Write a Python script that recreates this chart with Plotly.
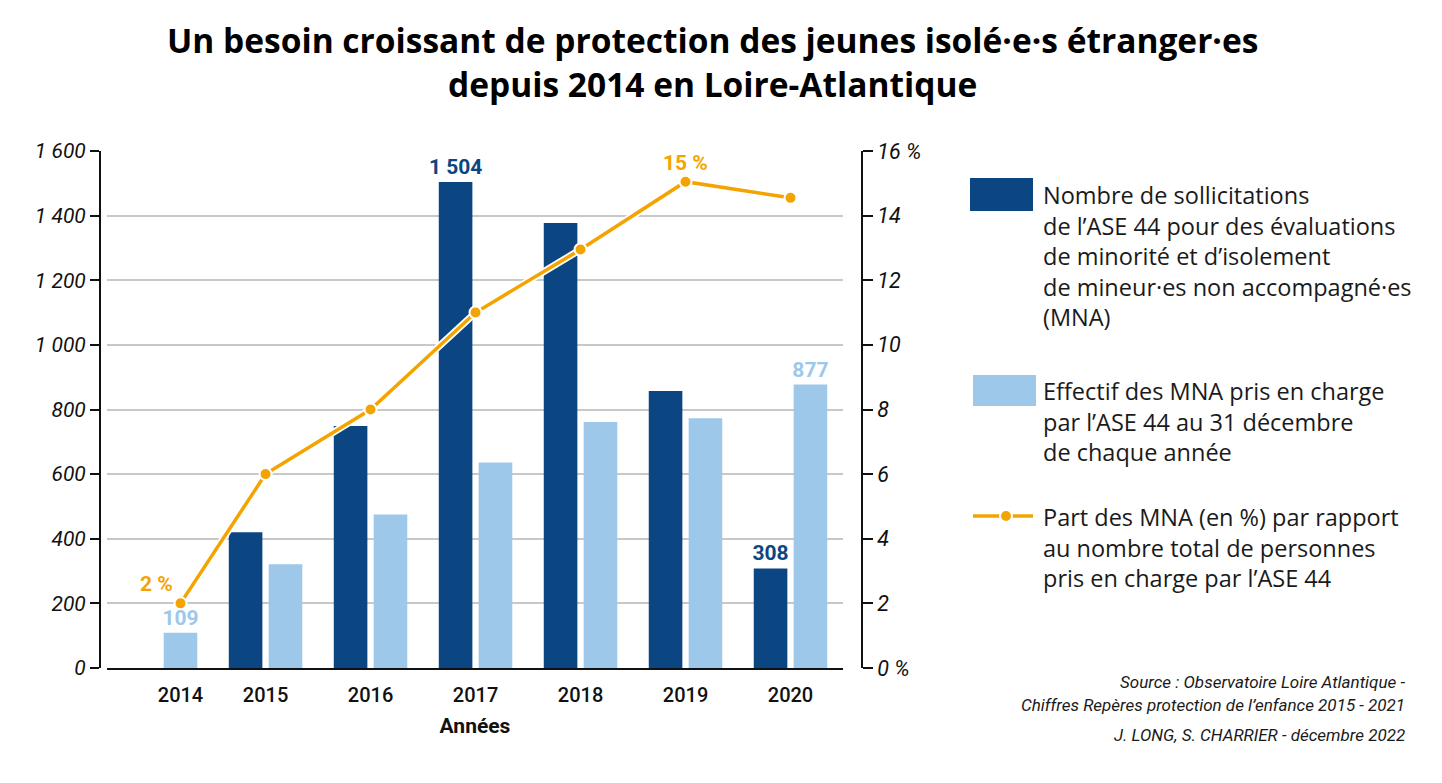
import plotly.graph_objects as go

# ---------------- data ----------------
YEARS = [2014, 2015, 2016, 2017, 2018, 2019, 2020]
SOLLICITATIONS = [None, 420, 749, 1504, 1377, 857, 308]
EFFECTIF = [109, 321, 475, 636, 761, 773, 877]
PART_PCT = [2, 6, 8, 11, 12.95, 15.05, 14.55]

DARK_LABELS = ["", "", "", "1 504", "", "", "308"]
LIGHT_LABELS = ["109", "", "", "", "", "", "877"]
PCT_LABELS = ["2 %", "", "", "", "", "15 %", ""]

LEFT_TICKS = [0, 200, 400, 600, 800, 1000, 1200, 1400, 1600]
RIGHT_TICKS = [0, 2, 4, 6, 8, 10, 12, 14, 16]
RIGHT_TICKTEXT = ["0 %", "2", "4", "6", "8", "10", "12", "14", "16 %"]

TITLE_LINES = ["Un besoin croissant de protection des jeunes isolé·e·s étranger·es",
               "depuis 2014 en Loire-Atlantique"]
X_TITLE = "Années"
LEG1 = ["Nombre de sollicitations", "de l’ASE 44 pour des évaluations",
        "de minorité et d’isolement", "de mineur·es non accompagné·es", "(MNA)"]
LEG2 = ["Effectif des MNA pris en charge", "par l’ASE 44 au 31 décembre",
        "de chaque année"]
LEG3 = ["Part des MNA (en %) par rapport", "au nombre total de personnes",
        "pris en charge par l’ASE 44"]
SOURCE = ["Source : Observatoire Loire Atlantique -",
          "Chiffres Repères protection de l’enfance 2015 - 2021",
          "J. LONG, S. CHARRIER - décembre 2022"]

# ---------------- style ----------------
W, H = 1442, 783
PAGE_OFF = 8          # default body margin of the page
FW, FH = W - PAGE_OFF, H - PAGE_OFF
DARK = "#0C4682"
LIGHT = "#9DC8EA"
ORANGE = "#F4A400"
FONT = "Roboto"
WIDE = "Open Sans"
BAR_W = 0.32
DARK_OFF = -0.35
LIGHT_OFF = 0.03


def px(x):
    return (x - PAGE_OFF) / FW


def py(y):
    return 1 - (y - PAGE_OFF) / FH


# position of the line point / tick: centre of the group, or centre of the
# single remaining bar when the dark one is missing
pos = [y if d is not None else y + LIGHT_OFF + BAR_W / 2
       for y, d in zip(YEARS, SOLLICITATIONS)]

fig = go.Figure()

fig.add_trace(go.Bar(
    x=YEARS, y=SOLLICITATIONS, width=BAR_W, offset=DARK_OFF,
    marker=dict(color=DARK, line=dict(width=0)),
    text=DARK_LABELS, textposition="outside", constraintext="none",
    outsidetextfont=dict(family=FONT, size=21, color=DARK, weight="bold"),
    cliponaxis=False, showlegend=False, xaxis="x", yaxis="y"))

fig.add_trace(go.Bar(
    x=YEARS, y=EFFECTIF, width=BAR_W, offset=LIGHT_OFF,
    marker=dict(color=LIGHT, line=dict(width=0)),
    text=LIGHT_LABELS, textposition="outside", constraintext="none",
    outsidetextfont=dict(family=FONT, size=21, color=LIGHT, weight="bold"),
    cliponaxis=False, showlegend=False, xaxis="x", yaxis="y"))

# white halo under the line
fig.add_trace(go.Scatter(
    x=pos, y=PART_PCT, mode="lines", line=dict(color="white", width=7),
    hoverinfo="skip", showlegend=False, xaxis="x", yaxis="y2"))
fig.add_trace(go.Scatter(
    x=pos, y=PART_PCT, mode="lines+markers",
    line=dict(color=ORANGE, width=3.5),
    marker=dict(color=ORANGE, size=12, line=dict(color="white", width=2)),
    showlegend=False, xaxis="x", yaxis="y2", cliponaxis=False))

annotations = []
for xv, yv, lab in zip(pos, PART_PCT, PCT_LABELS):
    if lab:
        annotations.append(dict(
            x=xv, y=yv, xref="x", yref="y2", text=lab, showarrow=False,
            xshift=-24 if lab.startswith("2 ") else 0, yshift=19,
            font=dict(family=FONT, size=21, color=ORANGE, weight="bold")))

# title (one two-line block)
annotations.append(dict(
    x=px(712), y=py(62), xref="paper", yref="paper",
    xanchor="center", yanchor="middle", text="<br>".join(TITLE_LINES),
    showarrow=False, align="center",
    font=dict(family=WIDE, size=33.5, color="#000000", weight="bold")))

# legend (drawn manually)
LEG_X = 1041
LINE_H = 30.5
for lines, y0 in ((LEG1, 195), (LEG2, 391), (LEG3, 517)):
    for i, t in enumerate(lines):
        annotations.append(dict(
            x=px(LEG_X), y=py(y0 + i * LINE_H), xref="paper", yref="paper",
            xanchor="left", yanchor="middle", text=t, showarrow=False,
            font=dict(family=WIDE, size=23.5, color="#1a1a1a")))

for t, yy in zip(SOURCE, (682, 705, 735)):
    annotations.append(dict(
        x=px(1407), y=py(yy), xref="paper", yref="paper",
        xanchor="right", yanchor="middle", text=t, showarrow=False,
        font=dict(family=FONT, size=17, color="#1a1a1a", style="italic")))

shapes = [
    dict(type="rect", xref="paper", yref="paper",
         x0=px(970), x1=px(1033), y0=py(211), y1=py(178),
         fillcolor=DARK, line=dict(width=0)),
    dict(type="rect", xref="paper", yref="paper",
         x0=px(973), x1=px(1036), y0=py(406), y1=py(375),
         fillcolor=LIGHT, line=dict(width=0)),
    dict(type="line", xref="paper", yref="paper",
         x0=px(973), x1=px(1033), y0=py(516), y1=py(516),
         line=dict(color=ORANGE, width=3.5)),
    dict(type="circle", xref="paper", yref="paper",
         x0=px(1000), x1=px(1012), y0=py(522), y1=py(510),
         fillcolor=ORANGE, line=dict(color="white", width=2)),
]

X0, X1 = 107, 843
YB, YT = 668, 151
x_range = [2013.49, 2020.5]

fig.update_layout(
    width=FW, height=FH,
    margin=dict(l=0, r=0, t=0, b=0, autoexpand=False),
    paper_bgcolor="white", plot_bgcolor="white",
    separators=", ",
    barmode="overlay",
    font=dict(family=FONT, color="#111111"),
    xaxis=dict(domain=[px(X0), px(X1)], range=x_range,
               tickvals=pos, ticktext=[str(y) for y in YEARS],
               showgrid=False, zeroline=False,
               showline=True, linecolor="#111111", linewidth=2,
               ticks="outside", ticklen=8, tickcolor="rgba(0,0,0,0)",
               tickfont=dict(family=FONT, size=20, color="#111111", weight=500),
               title=dict(text=X_TITLE, standoff=12,
                          font=dict(family=FONT, size=21, color="#111111", weight="bold")),
               anchor="y", fixedrange=True, automargin=False),
    yaxis=dict(domain=[py(YB), py(YT)], range=[0, 1600],
               tickvals=LEFT_TICKS, tickformat=",",
               anchor="free", position=px(100),
               showline=True, linecolor="#111111", linewidth=2,
               ticks="outside", ticklen=9, tickwidth=2, tickcolor="#111111",
               showgrid=True, gridcolor="#c8c8c8", gridwidth=1.5,
               zeroline=False,
               tickfont=dict(family=FONT, size=21, color="#111111", style="italic"),
               fixedrange=True, automargin=False),
    yaxis2=dict(domain=[py(YB), py(YT)], range=[0, 16],
                overlaying="y", side="right",
                anchor="free", position=px(862),
                tickvals=RIGHT_TICKS, ticktext=RIGHT_TICKTEXT,
                showline=True, linecolor="#111111", linewidth=2,
                ticks="outside", ticklen=10, tickwidth=2, tickcolor="#111111",
                showgrid=False, zeroline=False,
                tickfont=dict(family=FONT, size=21.5, color="#111111", style="italic"),
                fixedrange=True, automargin=False),
    annotations=annotations,
    shapes=shapes,
)

fig.write_html("out.html")
